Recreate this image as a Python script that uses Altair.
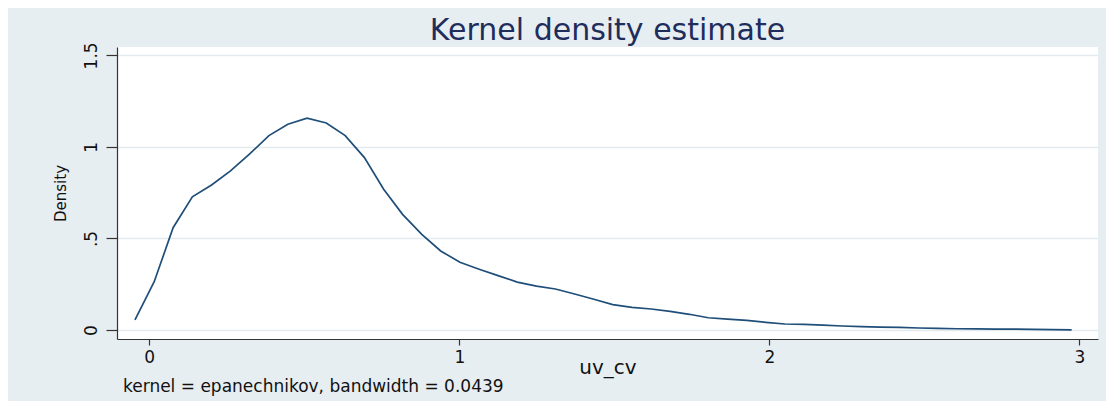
import altair as alt
import pandas as pd

# Kernel density evaluation points (uv_cv) and estimated density
uv_cv = [-0.046, 0.016, 0.077, 0.139, 0.201, 0.262, 0.324, 0.386, 0.447, 0.509,
         0.571, 0.632, 0.694, 0.756, 0.817, 0.879, 0.940, 1.002, 1.064, 1.125,
         1.187, 1.249, 1.310, 1.372, 1.434, 1.495, 1.557, 1.619, 1.680, 1.742,
         1.803, 1.865, 1.927, 1.988, 2.050, 2.112, 2.173, 2.235, 2.297, 2.358,
         2.420, 2.482, 2.543, 2.605, 2.667, 2.728, 2.790, 2.852, 2.913, 2.975]
density = [0.055, 0.264, 0.559, 0.728, 0.792, 0.869, 0.962, 1.062, 1.124, 1.157,
           1.131, 1.062, 0.942, 0.769, 0.632, 0.523, 0.432, 0.370, 0.332, 0.297,
           0.262, 0.240, 0.224, 0.197, 0.168, 0.139, 0.124, 0.115, 0.102, 0.086,
           0.067, 0.060, 0.053, 0.042, 0.033, 0.031, 0.027, 0.022, 0.019, 0.016,
           0.014, 0.011, 0.009, 0.007, 0.006, 0.005, 0.005, 0.004, 0.002, 0.001]

x_ticks = [0, 1, 2, 3]
y_ticks = [0, 0.5, 1, 1.5]
title_text = "Kernel density estimate"
x_title = "uv_cv"
y_title = "Density"
note_text = "kernel = epanechnikov, bandwidth = 0.0439"

FONT = "DejaVu Sans"
BG = "#e7eef1"
df = pd.DataFrame({"uv_cv": uv_cv, "density": density})

line = alt.Chart(df).mark_line(color="#1f4e79", strokeWidth=1.7).encode(
    x=alt.X("uv_cv:Q",
            scale=alt.Scale(domain=[-0.104, 3.06], nice=False, zero=False),
            axis=alt.Axis(values=x_ticks, format="d", title=x_title,
                          grid=False, tickSize=6, labelPadding=4,
                          labelFontSize=17, titleFontSize=20,
                          titleFontWeight="normal", titleY=34,
                          titleBaseline="alphabetic")),
    y=alt.Y("density:Q",
            scale=alt.Scale(domain=[-0.049, 1.546], nice=False, zero=False),
            axis=alt.Axis(values=y_ticks, title=y_title,
                          labelExpr="datum.value == 0 ? '0' : datum.value == 0.5 ? '.5' : datum.value == 1 ? '1' : '1.5'",
                          grid=True, gridColor="#e2eaee", gridWidth=1.5,
                          tickSize=11, labelAngle=270, labelAlign="center",
                          labelBaseline="bottom", labelPadding=6,
                          labelFontSize=17, titleFontSize=15,
                          titleFontWeight="normal", titleAngle=270,
                          titleX=-57, titleY=146, titleAlign="center",
                          titleBaseline="middle")),
)

note = alt.Chart(pd.DataFrame({"t": [note_text]})).mark_text(
    align="left", baseline="alphabetic", fontSize=17, font=FONT, color="#111111"
).encode(text="t:N", x=alt.value(6), y=alt.value(345))

chart = alt.layer(line, note).properties(
    width=981, height=292,
    autosize=alt.AutoSizeParams(type="none"),
    padding={"left": 109, "top": 39, "right": 8, "bottom": 62},
    background=BG,
    title=alt.TitleParams(title_text, fontSize=30, font=FONT, color="#1f2d5c",
                          fontWeight="normal", anchor="middle", frame="group",
                          baseline="alphabetic", offset=0, dy=28),
).configure_view(
    fill="white", stroke=None
).configure_axis(
    labelFont=FONT, titleFont=FONT, labelColor="#111111", titleColor="#111111",
    domainColor="#333333", domainWidth=1.2, tickColor="#333333", tickWidth=1.2
)

chart.save("out.html", embed_options={"renderer": "svg", "actions": False})
